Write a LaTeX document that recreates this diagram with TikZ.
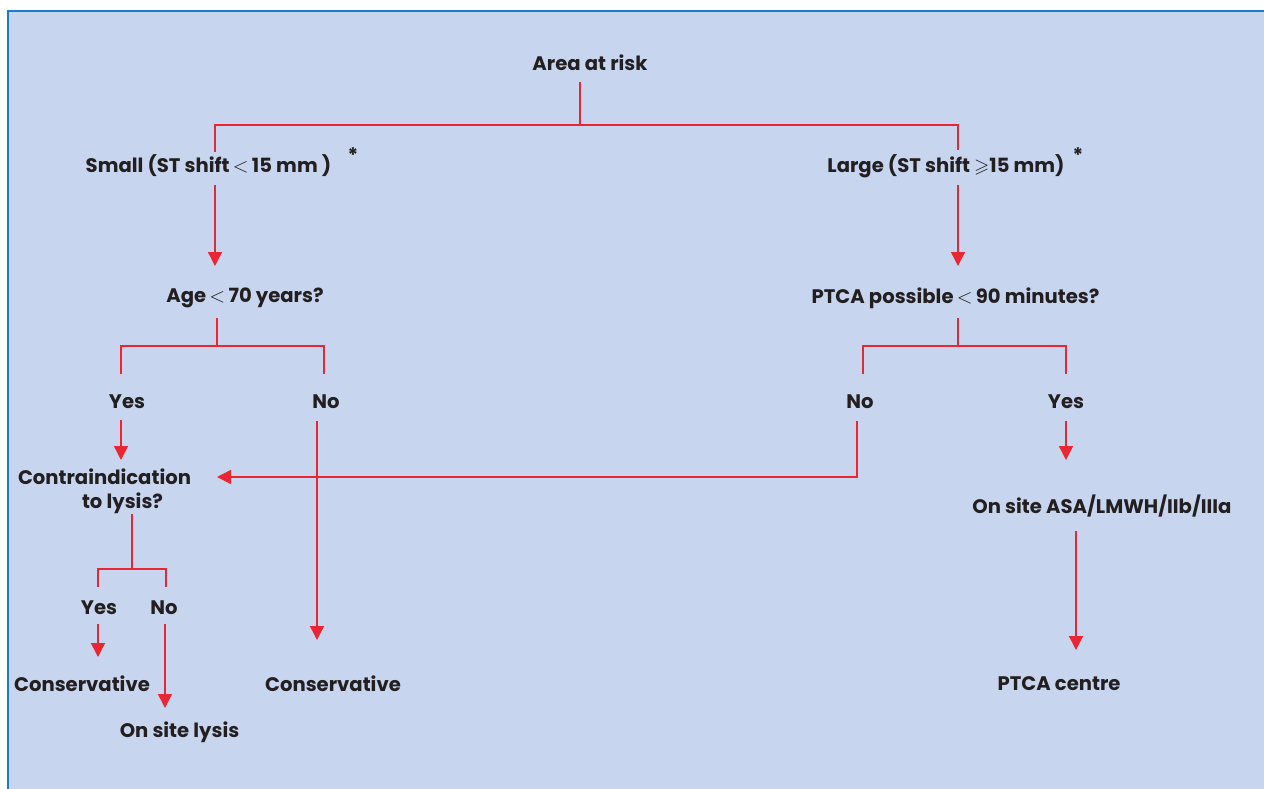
\documentclass[tikz,border=0pt]{standalone}
\usepackage{amssymb}
\usepackage{fontspec}
\setmainfont{Poppins}
\usetikzlibrary{arrows.meta}
\definecolor{bgblue}{HTML}{C7D5EE}
\definecolor{frameblue}{HTML}{1C7CC6}
\definecolor{linered}{HTML}{EA2632}
\definecolor{txt}{HTML}{231F20}
\tikzset{
  lbl/.style={inner sep=0pt, text=txt, font=\fontsize{19.6}{24}\selectfont\bfseries, align=center},
  star/.style={inner sep=0pt, text=txt, font=\fontsize{20}{22}\selectfont\bfseries},
  conn/.style={draw=linered, line width=1.5pt},
  arr/.style={conn, -{Triangle[width=14pt,length=14pt,fill=linered]}}
}
\newcommand{\lessthan}{\,$<$\,}
\begin{document}
\begin{tikzpicture}[x=1pt,y=-1pt]
\useasboundingbox (0,0) rectangle (1264,789);
\fill[bgblue] (8,11) rectangle (1264,789);
\draw[frameblue, line width=2pt] (8,789) -- (8,11) -- (1264,11);

% text nodes
\node[lbl] (area) at (590,63) {Area at risk};
\node[lbl] (small) at (208.5,166) {Small (ST shift\lessthan15 mm )};
\node[star] (smallstar) at (353,155) {*};
\node[lbl] (large) at (946,166) {Large (ST shift $\geqslant$15 mm)};
\node[star] (largestar) at (1078,155) {*};
\node[lbl] (age) at (245,298) {Age\lessthan70 years?};
\node[lbl] (ptca) at (955.5,298) {PTCA possible\lessthan90 minutes?};
\node[lbl] (yesA) at (127,402) {Yes};
\node[lbl] (noA) at (326,402) {No};
\node[lbl] (noP) at (860,402) {No};
\node[lbl] (yesP) at (1066,402) {Yes};
\node[lbl] (contra1) at (104.5,477) {Contraindication};
\node[lbl] (contra2) at (122.5,503) {to lysis?};
\node[lbl] (yesC) at (99,608) {Yes};
\node[lbl] (noC) at (164,608) {No};
\node[lbl] (cons1) at (82,684) {Conservative};
\node[lbl] (cons2) at (333,684) {Conservative};
\node[lbl] (lysis) at (179.5,732) {On site lysis};
\node[lbl] (asa) at (1102,506) {On site ASA/LMWH/IIb/IIIa};
\node[lbl] (centre) at (1059,684) {PTCA centre};

% connector coordinates
\coordinate (a0) at (580,82);
\coordinate (a1) at (580,125);
\coordinate (sL) at (215,125);
\coordinate (sR) at (958,125);
\coordinate (sLe) at (215,152);
\coordinate (sRe) at (958,150);
\coordinate (s1) at (215,185);
\coordinate (s2) at (215,266);
\coordinate (l1) at (958,185);
\coordinate (l2) at (958,266);
\coordinate (g0) at (217,318);
\coordinate (g1) at (217,346);
\coordinate (gL) at (121,346);
\coordinate (gR) at (324,346);
\coordinate (gLe) at (121,374);
\coordinate (gRe) at (324,374);
\coordinate (p0) at (958,318);
\coordinate (p1) at (958,346);
\coordinate (pL) at (863,346);
\coordinate (pR) at (1066,346);
\coordinate (pLe) at (863,374);
\coordinate (pRe) at (1066,374);
\coordinate (y1) at (121,420);
\coordinate (y2) at (121,460);
\coordinate (n1) at (857,421);
\coordinate (n2) at (857,477);
\coordinate (n3) at (217,477);
\coordinate (m1) at (317,421);
\coordinate (m2) at (317,640);
\coordinate (q1) at (1066,421);
\coordinate (q2) at (1066,460);
\coordinate (c0) at (132,514);
\coordinate (c1) at (132,569);
\coordinate (cL) at (98,569);
\coordinate (cR) at (166,569);
\coordinate (cLe) at (98,587);
\coordinate (cRe) at (166,587);
\coordinate (cy1) at (98,624);
\coordinate (cy2) at (98,657);
\coordinate (cn1) at (165,624);
\coordinate (cn2) at (165,708);
\coordinate (r1) at (1076,531);
\coordinate (r2) at (1076,650);

% connectors
\draw[conn] (a0) -- (a1);
\draw[conn] (sLe) -- (sL) -- (sR) -- (sRe);
\draw[arr] (s1) -- (s2);
\draw[arr] (l1) -- (l2);
\draw[conn] (g0) -- (g1);
\draw[conn] (gLe) -- (gL) -- (gR) -- (gRe);
\draw[conn] (p0) -- (p1);
\draw[conn] (pLe) -- (pL) -- (pR) -- (pRe);
\draw[arr] (y1) -- (y2);
\draw[arr] (n1) -- (n2) -- (n3);
\draw[arr] (m1) -- (m2);
\draw[arr] (q1) -- (q2);
\draw[conn] (c0) -- (c1);
\draw[conn] (cLe) -- (cL) -- (cR) -- (cRe);
\draw[arr] (cy1) -- (cy2);
\draw[arr] (cn1) -- (cn2);
\draw[arr] (r1) -- (r2);
\end{tikzpicture}
\end{document}
